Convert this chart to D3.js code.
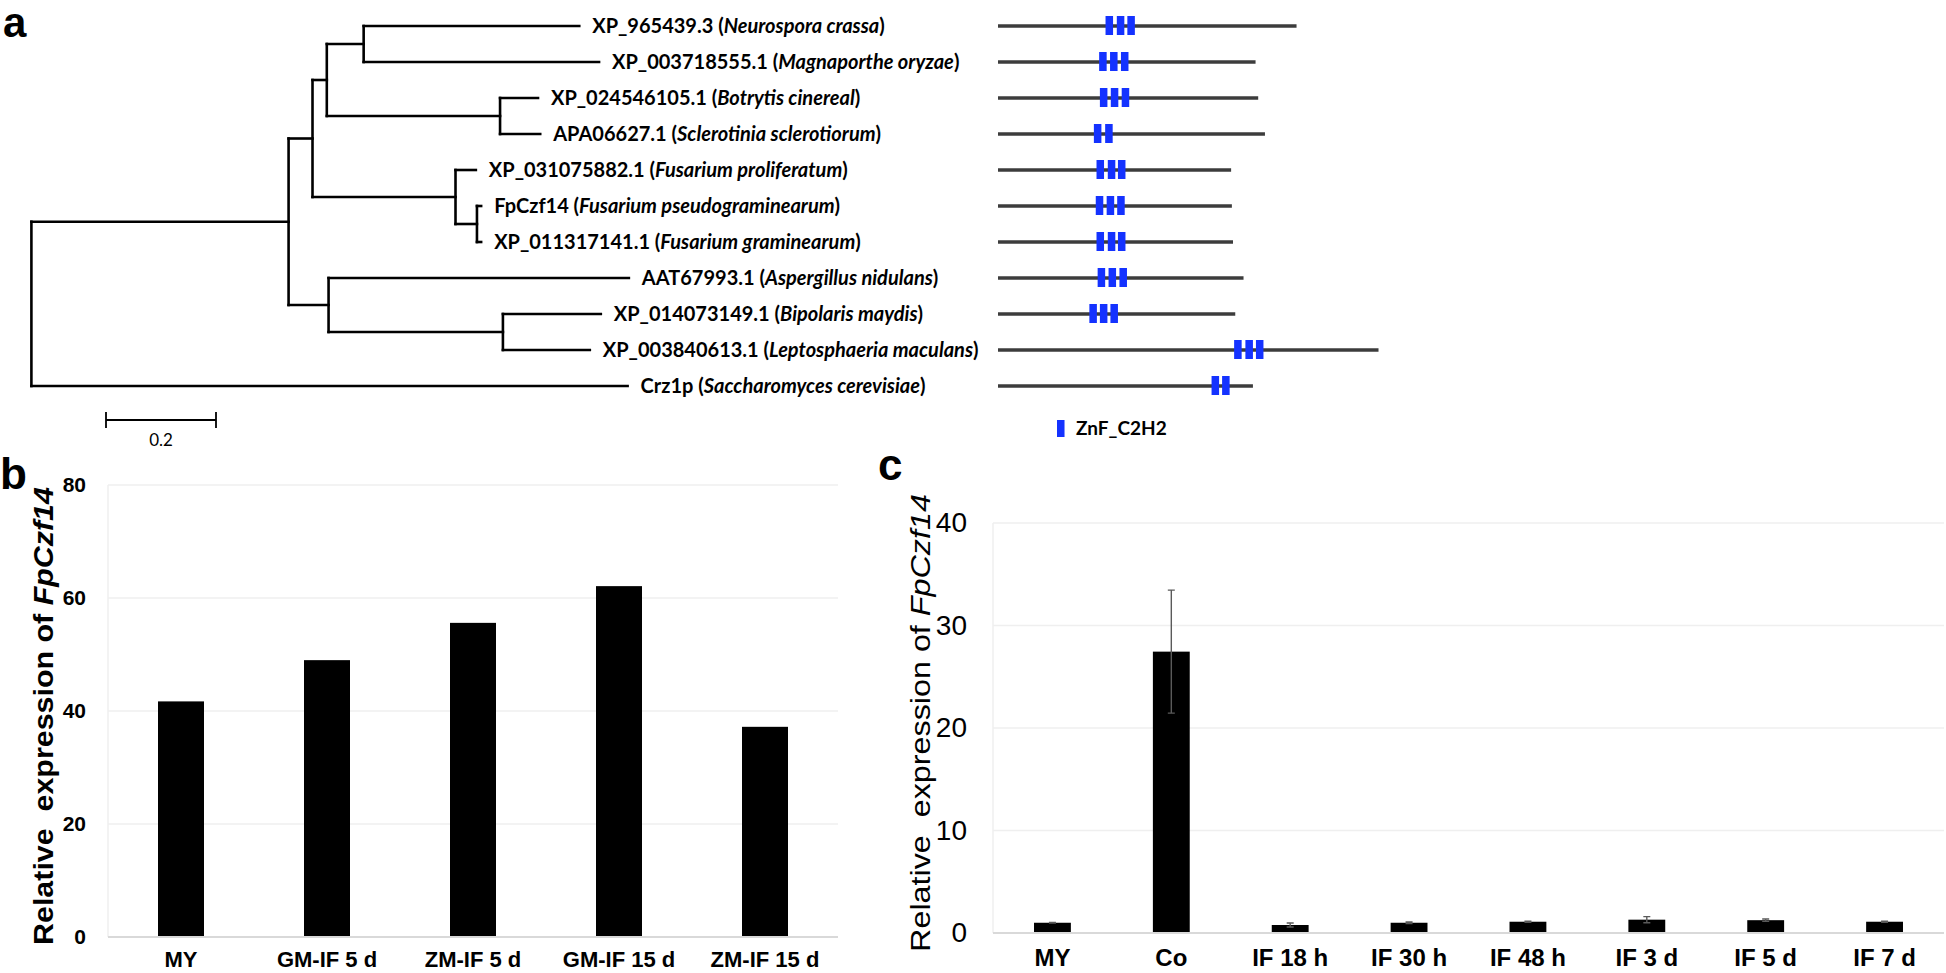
<!DOCTYPE html>
<html><head><meta charset="utf-8">
<script src="https://cdn.jsdelivr.net/npm/d3@7"></script>
<style>body{margin:0;background:#fff} text{white-space:pre}</style>
</head><body><svg id="fig" width="1946" height="973"></svg>
<script>
// ---------- DATA ----------
const newick = "(((((L0:0.392,L1:0.428):0.067,(L2:0.069,L3:0.073):0.315):0.026,(L4:0.037,(L5:0.0076,L6:0.0076):0.039):0.260):0.0435,(L7:0.546,(L8:0.178,L9:0.158):0.317):0.0727):0.4676,L10:1.084);";
const accessions = ["XP_965439.3","XP_003718555.1","XP_024546105.1","APA06627.1","XP_031075882.1","FpCzf14","XP_011317141.1","AAT67993.1","XP_014073149.1","XP_003840613.1","Crz1p"];
const species = ["Neurospora crassa","Magnaporthe oryzae","Botrytis cinereal","Sclerotinia sclerotiorum","Fusarium proliferatum","Fusarium pseudograminearum","Fusarium graminearum","Aspergillus nidulans","Bipolaris maydis","Leptosphaeria maculans","Saccharomyces cerevisiae"];
const proteinLengths = [794,685,692,710,620,622,625,653,631,1012,678];
const znfStarts = [[286,316,344],[269,298,327],[271,300,329],[255,285],[262,292,319],[260,289,317],[262,292,319],[265,294,323],[243,271,299],[628,658,686],[568,596]];
const znfLength = 20;
const domainName = "ZnF_C2H2";
const scaleBarValue = 0.2;

const catsB = ["MY","GM-IF 5 d","ZM-IF 5 d","GM-IF 15 d","ZM-IF 15 d"];
const valsB = [41.7,49.0,55.6,62.1,37.2];
const ticksB = [0,20,40,60,80];

const catsC = ["MY","Co","IF 18 h","IF 30 h","IF 48 h","IF 3 d","IF 5 d","IF 7 d"];
const valsC = [1.0,27.45,0.78,1.0,1.1,1.3,1.25,1.1];
const errsC = [0.04,6.0,0.2,0.08,0.06,0.3,0.12,0.06];
const ticksC = [0,10,20,30,40];

const yTitleMain = "Relative  expression of ";
const yTitleGene = "FpCzf14";

// ---------- HELPERS ----------
function parseNewick(s){
  let i=0;
  function node(){
    const n={children:[]};
    if(s[i]==='('){ i++; n.children.push(node()); while(s[i]===','){i++; n.children.push(node());} i++; }
    let name=''; while(i<s.length && !':,);'.includes(s[i])) name+=s[i++];
    n.name=name;
    if(s[i]===':'){ i++; let num=''; while(i<s.length && !',);'.includes(s[i])) num+=s[i++]; n.length=+num; } else n.length=0;
    if(!n.children.length) delete n.children;
    return n;
  }
  return node();
}

const svg = d3.select("#fig");
const SANS = "'Liberation Sans', Arial, sans-serif";
const LBL = "Lato, 'Open Sans', sans-serif";

// panel letters
[["a",3,37,42],["b",0,489,44],["c",878,480,44]].forEach(([t,x,y,fs])=>{
  svg.append("text").attr("x",x).attr("y",y).text(t)
    .attr("font-family",SANS).attr("font-weight","bold").attr("font-size",fs);
});

// ---------- PANEL A: TREE ----------
const root = d3.hierarchy(parseNewick(newick));
root.eachBefore(d => d.dist = d.parent ? d.parent.dist + d.data.length : 0);
const xT = d3.scaleLinear().domain([0,1]).range([31.4,581.4]);
const yRow = d3.scaleLinear().domain([0,10]).range([26,386]);
root.eachAfter(d => {
  d.yy = d.children ? (d.children[0].yy + d.children[d.children.length-1].yy)/2 : yRow(+d.data.name.slice(1));
});
const gT = svg.append("g").attr("fill","none").attr("stroke","#000").attr("stroke-width",2.6).attr("stroke-linecap","square");
root.descendants().forEach(d=>{
  if(d.parent) gT.append("path").attr("d",`M${xT(d.parent.dist)},${d.yy}H${xT(d.dist)}`);
  if(d.children) gT.append("path").attr("d",`M${xT(d.dist)},${d.children[0].yy}V${d.children[d.children.length-1].yy}`);
});
root.leaves().forEach(d=>{
  const k = +d.data.name.slice(1);
  const t = svg.append("text").attr("x",xT(d.dist)+13).attr("y",d.yy+7)
    .attr("font-family",LBL).attr("font-weight","bold").attr("font-size",20).attr("fill","#000");
  t.append("tspan").text(accessions[k]+" (");
  t.append("tspan").attr("font-style","italic").text(species[k]);
  t.append("tspan").text(")");
});
// scale bar
const sb0 = 106, sbW = xT(scaleBarValue)-xT(0);
svg.append("path").attr("d",`M${sb0},412V428M${sb0},420H${sb0+sbW}M${sb0+sbW},412V428`)
  .attr("stroke","#000").attr("stroke-width",1.8).attr("fill","none");
svg.append("text").attr("x",sb0+sbW/2).attr("y",446).attr("text-anchor","middle")
  .attr("font-family",LBL).attr("font-size",17).text(String(scaleBarValue));

// domains
const xAa = d3.scaleLinear().domain([0,1000]).range([998,1374]);
const gD = svg.append("g");
proteinLengths.forEach((L,k)=>{
  const y = yRow(k);
  gD.append("line").attr("x1",xAa(0)).attr("x2",xAa(L)).attr("y1",y).attr("y2",y)
    .attr("stroke","#3c3c3c").attr("stroke-width",3.6);
  znfStarts[k].forEach(s=>{
    gD.append("rect").attr("x",xAa(s)).attr("width",xAa(s+znfLength)-xAa(s))
      .attr("y",y-10).attr("height",19).attr("fill","#1432ff");
  });
});
svg.append("rect").attr("x",1057).attr("y",420).attr("width",xAa(znfLength)-xAa(0)).attr("height",17).attr("fill","#1432ff");
svg.append("text").attr("x",1076).attr("y",435).text(domainName)
  .attr("font-family",LBL).attr("font-weight","bold").attr("font-size",19);

// ---------- BAR PANELS ----------
function barPanel(o){
  const x = d3.scaleBand().domain(o.cats).range([o.x0,o.x1]).paddingInner(o.pad).paddingOuter(o.pad/2);
  const y = d3.scaleLinear().domain([0,o.max]).range([o.y0,o.y1]);
  const g = svg.append("g");
  g.selectAll(".grid").data(o.ticks.filter(t=>t>0)).join("line")
    .attr("x1",o.x0).attr("x2",o.x1).attr("y1",d=>y(d)).attr("y2",d=>y(d))
    .attr("stroke","#efefef").attr("stroke-width",1.5);
  g.append("line").attr("x1",o.x0).attr("x2",o.x0).attr("y1",y(o.max)).attr("y2",y(0))
    .attr("stroke","#efefef").attr("stroke-width",1.5);
  g.selectAll(".bar").data(o.vals).join("rect")
    .attr("x",(d,i)=>x(o.cats[i])).attr("width",x.bandwidth())
    .attr("y",d=>y(d)).attr("height",d=>y(0)-y(d)).attr("fill","#000");
  if(o.errs){
    o.vals.forEach((v,i)=>{
      const cx = x(o.cats[i])+x.bandwidth()/2, e=o.errs[i];
      g.append("path").attr("d",`M${cx},${y(v-e)}V${y(v+e)}M${cx-3.5},${y(v-e)}H${cx+3.5}M${cx-3.5},${y(v+e)}H${cx+3.5}`)
        .attr("stroke","#5a5a5a").attr("stroke-width",1.4).attr("fill","none");
    });
  }
  g.append("line").attr("x1",o.x0).attr("x2",o.x1).attr("y1",y(0)).attr("y2",y(0))
    .attr("stroke","#d9d9d9").attr("stroke-width",2);
  const ya = svg.append("g").attr("transform",`translate(${o.x0},0)`)
    .call(d3.axisLeft(y).tickValues(o.ticks).tickSize(0).tickPadding(o.yPad).tickFormat(d3.format("d")));
  ya.select(".domain").remove();
  ya.selectAll("text").attr("font-family",SANS).attr("font-size",o.yFont).attr("font-weight",o.yWeight).attr("fill","#000");
  const xa = svg.append("g").attr("transform",`translate(0,${y(0)})`)
    .call(d3.axisBottom(x).tickSize(0).tickPadding(o.xPad));
  xa.select(".domain").remove();
  xa.selectAll("text").attr("font-family",SANS).attr("font-size",o.xFont).attr("font-weight","bold").attr("fill","#000");
  const t = svg.append("text").attr("text-anchor","middle")
    .attr("font-family",SANS).attr("font-size",o.tFont).attr("font-weight",o.tWeight);
  t.append("tspan").text(yTitleMain);
  t.append("tspan").attr("font-style","italic").text(yTitleGene);
  const len = t.node().getComputedTextLength();
  t.attr("transform",`translate(${o.tx},${o.ty}) rotate(-90) scale(${o.tLen/len},1)`);
}

barPanel({cats:catsB, vals:valsB, ticks:ticksB, max:80, x0:108, x1:838, y0:937, y1:485, pad:0.685,
  yPad:22, yFont:21, yWeight:"bold", xPad:14, xFont:22, tFont:27, tWeight:"bold", tx:53, ty:716, tLen:458});
barPanel({cats:catsC, vals:valsC, errs:errsC, ticks:ticksC, max:40, x0:993, x1:1944, y0:933, y1:523, pad:0.69,
  yPad:26, yFont:28, yWeight:"normal", xPad:16, xFont:24, tFont:28, tWeight:"normal", tx:930, ty:723, tLen:458});
</script>
</body></html>
